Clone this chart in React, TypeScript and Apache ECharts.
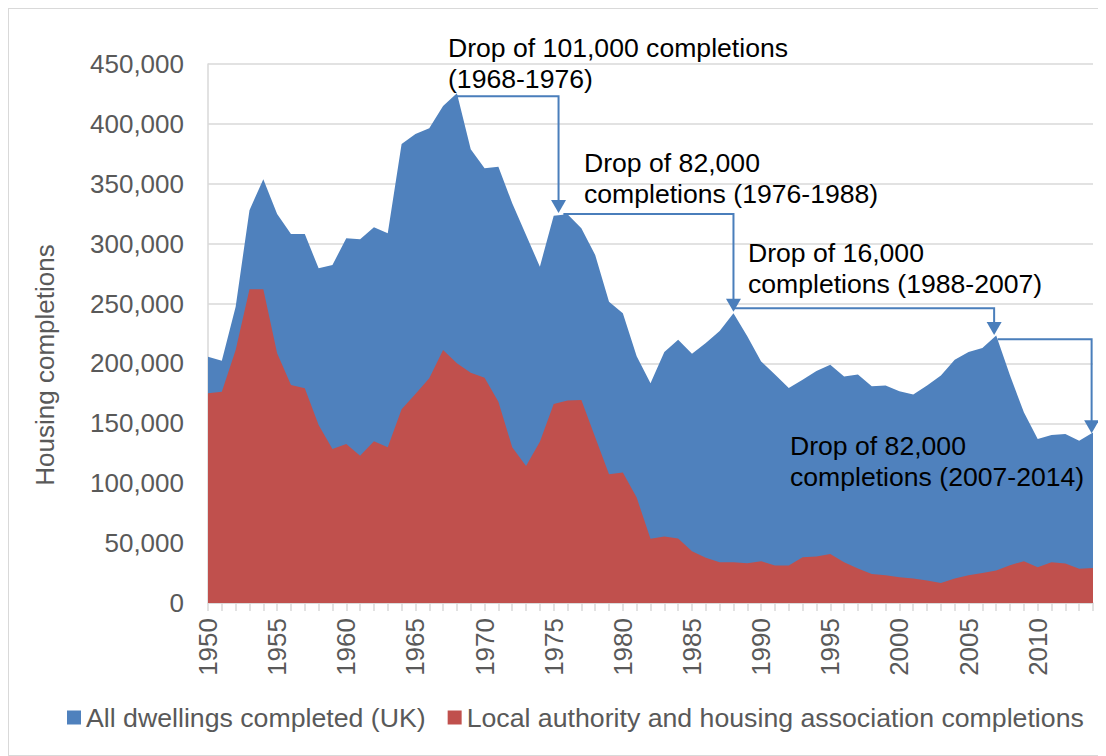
import React, { useEffect, useRef } from "react";
import * as echarts from "echarts";

const years: string[] = [];
for (let y = 1950; y <= 2014; y++) years.push(String(y));

const allDwellings = [
  205500, 202300, 247400, 328000, 353700, 324800, 308000, 308000, 279400, 282200,
  304500, 303600, 313700, 308700, 383200, 391600, 396300, 415000, 425500, 378800,
  363000, 364300, 333700, 307200, 280800, 323400, 324500, 312800, 290500, 251600,
  241900, 206000, 183500, 209500, 219800, 208100, 217000, 227100, 242000, 222600,
  201700, 190800, 179600, 186300, 193600, 198900, 189100, 190800, 181000, 181500,
  176800, 174000, 181500, 189900, 203100, 209500, 212800, 223400, 189900, 159200,
  136900, 140200, 141000, 135500, 142400,
];

const localAuthority = [
  175100, 176400, 211200, 261900, 261900, 208500, 182000, 179200, 148600, 128600,
  132800, 123000, 135000, 130000, 161700, 174500, 187600, 211200, 200100, 192300,
  188100, 168100, 130000, 114400, 134700, 166200, 169000, 169500, 138300, 107500,
  108900, 88000, 53600, 55600, 53900, 43300, 37700, 34100, 34100, 33200,
  34900, 31300, 31300, 38300, 38800, 41000, 34100, 28800, 24300, 23200,
  21500, 20400, 18700, 16800, 20400, 23200, 25100, 27100, 31600, 34900,
  29900, 34100, 33000, 28500, 29300,
];

const seriesNames = [
  "All dwellings completed (UK)",
  "Local authority and housing association completions",
];

// annotation arrows: start year, end year, horizontal level, arrow tip value
const arrowStartYear = [1968, 1975.7, 1988, 2007.1];
const arrowEndYear = [1975.35, 1988, 2006.85, 2013.9];
const arrowLevel = [423000, 324800, 246000, 220200];
const arrowTip = [325500, 243200, 223800, 141700];

const annotationLines = [
  ["Drop of 101,000 completions", "(1968-1976)"],
  ["Drop of 82,000", "completions (1976-1988)"],
  ["Drop of 16,000", "completions (1988-2007)"],
  ["Drop of 82,000", "completions (2007-2014)"],
];

const yTitle = "Housing completions";

const FONT = "'Liberation Sans', Arial, sans-serif";
const BLUE = "#4f81bd";
const RED = "#c0504d";
const ARROW = "#4a7ebb";

const GRID = { left: 199, top: 55, width: 885, height: 539 };
const Y_MAX = 450000;

function px(yearVal: number) {
  return GRID.left + ((yearVal - 1950) / (years.length - 1)) * GRID.width;
}
function py(v: number) {
  return GRID.top + (1 - v / Y_MAX) * GRID.height;
}

export default function App() {
  const ref = useRef<HTMLDivElement>(null);
  useEffect(() => {
    if (!ref.current) return;
    const chart = echarts.init(ref.current, undefined, { renderer: "svg" });

    const graphics: any[] = [];
    for (let i = 0; i < arrowStartYear.length; i++) {
      const x1 = px(arrowStartYear[i]);
      const x2 = px(arrowEndYear[i]);
      const yl = py(arrowLevel[i]);
      const yt = py(arrowTip[i]);
      graphics.push({
        type: "polyline",
        shape: { points: [[x1, yl], [x2, yl], [x2, yt - 10]] },
        style: { stroke: ARROW, lineWidth: 2, fill: null },
        z: 10,
      });
      graphics.push({
        type: "polygon",
        shape: { points: [[x2 - 7.5, yt - 13], [x2 + 7.5, yt - 13], [x2, yt]] },
        style: { fill: ARROW },
        z: 10,
      });
    }
    const textPos = [
      [439, 39],
      [575, 154],
      [739, 244],
      [781, 437],
    ];
    const lineGap = 31;
    annotationLines.forEach((lines, i) => {
      lines.forEach((t, j) => {
        graphics.push({
          type: "text",
          x: textPos[i][0],
          y: textPos[i][1] + j * lineGap,
          style: {
            text: t,
            fill: "#000",
            font: `26.6px ${FONT}`,
            textAlign: "left",
            textVerticalAlign: "middle",
          },
          z: 11,
        });
      });
    });
    graphics.push({
      type: "text",
      x: 36,
      y: 356,
      rotation: Math.PI / 2,
      style: {
        text: yTitle,
        fill: "#595959",
        font: `26px ${FONT}`,
        textAlign: "center",
        textVerticalAlign: "middle",
      },
    });

    chart.setOption({
      animation: false,
      grid: { ...GRID, containLabel: false },
      legend: {
        data: seriesNames,
        left: 53,
        top: 690,
        icon: "rect",
        itemWidth: 14,
        itemHeight: 14,
        itemGap: 22,
        textStyle: { fontSize: 26.7, color: "#595959", fontFamily: FONT },
      },
      xAxis: {
        type: "category",
        data: years,
        boundaryGap: false,
        axisLine: { lineStyle: { color: "#d9d9d9", width: 1.5 } },
        axisTick: { show: true, interval: 0, length: 8, lineStyle: { color: "#d9d9d9", width: 1.5 } },
        axisLabel: {
          interval: (i: number) => i % 5 === 0,
          rotate: 90,
          margin: 15,
          color: "#595959",
          fontSize: 26,
          fontFamily: FONT,
        },
        splitLine: { show: false },
      },
      yAxis: {
        type: "value",
        min: 0,
        max: Y_MAX,
        interval: 50000,
        axisLine: { show: true, lineStyle: { color: "#d9d9d9", width: 1.5 } },
        axisTick: { show: false },
        splitLine: { lineStyle: { color: "#d9d9d9", width: 1.5 } },
        axisLabel: {
          margin: 24,
          color: "#595959",
          fontSize: 26,
          fontFamily: FONT,
          formatter: (v: number) => v.toLocaleString("en-US"),
        },
      },
      series: [
        {
          name: seriesNames[0],
          type: "line",
          data: allDwellings,
          symbol: "none",
          lineStyle: { width: 0 },
          itemStyle: { color: BLUE },
          areaStyle: { color: BLUE, opacity: 1 },
          z: 2,
        },
        {
          name: seriesNames[1],
          type: "line",
          data: localAuthority,
          symbol: "none",
          lineStyle: { width: 0 },
          itemStyle: { color: RED },
          areaStyle: { color: RED, opacity: 1 },
          z: 3,
        },
      ],
      graphic: graphics,
    });
    return () => chart.dispose();
  }, []);

  return (
    <div
      style={{
        width: 1098,
        height: 748,
        boxSizing: "border-box",
        border: "1px solid #d9d9d9",
      }}
    >
      <div ref={ref} style={{ width: 1096, height: 746 }} />
    </div>
  );
}
